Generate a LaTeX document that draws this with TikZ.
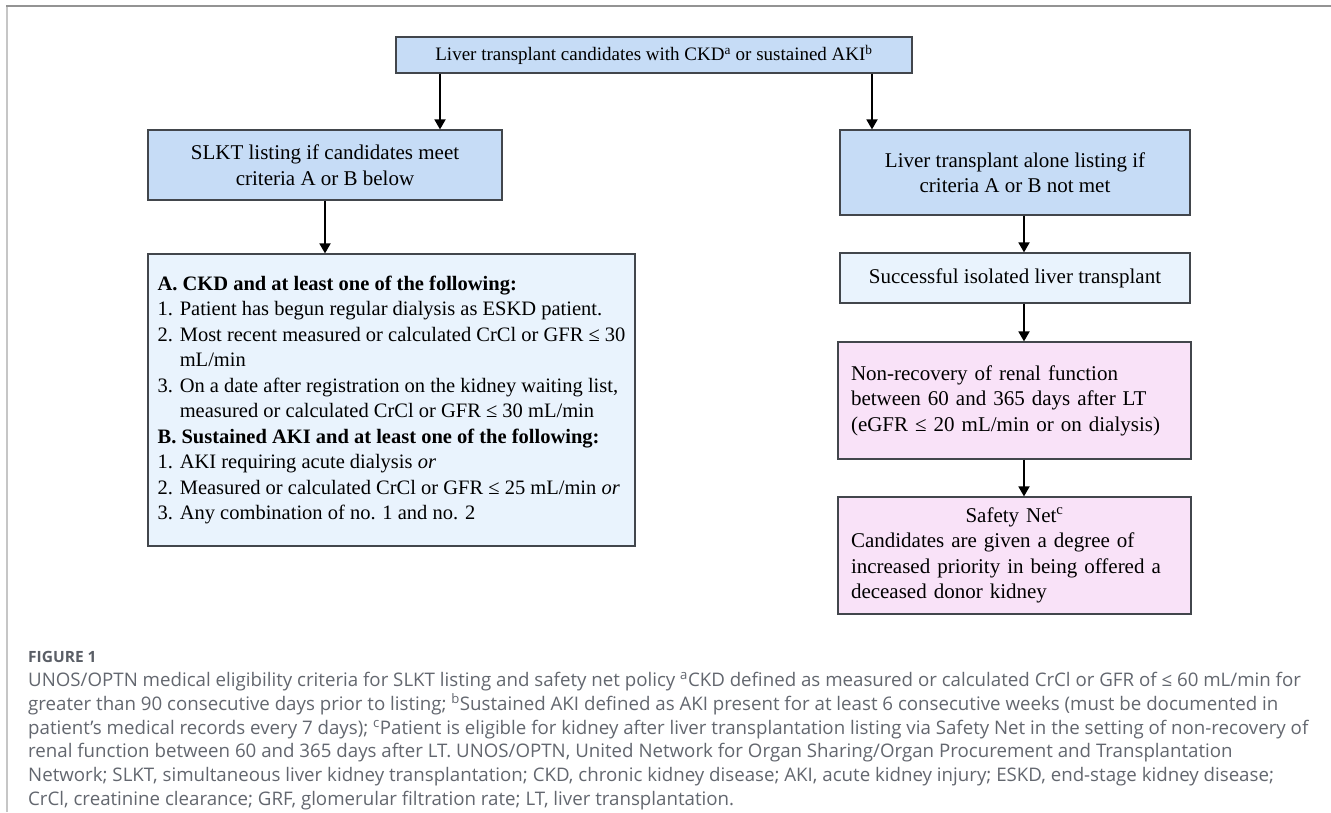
\documentclass[tikz,border=0pt]{standalone}
\usepackage{fontspec}
\setmainfont{Liberation Serif}
\newfontfamily\capfont{Open Sans}
\usetikzlibrary{arrows.meta}
\definecolor{boxblue}{HTML}{C6DCF6}
\definecolor{boxlight}{HTML}{E9F3FD}
\definecolor{boxpink}{HTML}{F9E2F8}
\definecolor{edgegray}{HTML}{42464C}
\definecolor{captext}{HTML}{63676F}
\definecolor{capbold}{HTML}{5A5E66}
\begin{document}
\begin{tikzpicture}[x=1pt,y=-1pt,
  box/.style={draw=edgegray, line width=1.2pt, inner sep=0pt, text=black,
    font=\fontsize{21}{25.5}\selectfont},
  arr/.style={line width=1.8pt, -{Triangle[length=10pt,width=11pt]}},
  capline/.style={anchor=base west, inner sep=0pt, text=captext,
    font=\capfont\fontsize{18.7}{22}\selectfont}]
\useasboundingbox (0,0) rectangle (1331,812);
\fill[white] (0,0) rectangle (1331,812);
\draw[line width=1.5pt, color=gray!45] (7,812) -- (7,6);
\draw[line width=2pt, color=gray!85] (6,6) -- (1331,6);

% boxes
\node[box, fill=boxblue, minimum width=516pt, minimum height=36pt,
      font=\fontsize{19}{22}\selectfont] (top) at (654,55)
  {Liver transplant candidates with CKD\textsuperscript{a} or sustained AKI\textsuperscript{b}};
\node[box, fill=boxblue, minimum width=354pt, minimum height=70pt, align=center] (slkt) at (325,165)
  {SLKT listing if candidates meet\\criteria A or B below};
\node[box, fill=boxlight, minimum width=487pt, minimum height=292pt, align=left,
      font=\fontsize{20.5}{25.5}\selectfont] (crit) at (391.5,400)
  {\textbf{A. CKD and at least one of the following:}\\
   1. Patient has begun regular dialysis as ESKD patient.\\
   2. Most recent measured or calculated CrCl or GFR ≤ 30\\
   \phantom{2. }mL/min\\
   3. On a date after registration on the kidney waiting list,\\
   \phantom{3. }measured or calculated CrCl or GFR ≤ 30 mL/min\\
   \textbf{B. Sustained AKI and at least one of the following:}\\
   1. AKI requiring acute dialysis \textit{or}\\
   2. Measured or calculated CrCl or GFR ≤ 25 mL/min \textit{or}\\
   3. Any combination of no. 1 and no. 2};
\node[box, fill=boxblue, minimum width=350pt, minimum height=85pt, align=center] (lta) at (1015,172.5)
  {Liver transplant alone listing if\\criteria A or B not met};
\node[box, fill=boxlight, minimum width=350pt, minimum height=50pt] (succ) at (1015,278)
  {Successful isolated liver transplant};
\node[box, fill=boxpink, minimum width=353pt, minimum height=117pt, inner xsep=13pt,
      text width=327pt, align=left] (nonrec) at (1014.5,400.5)
  {Non-recovery of renal function\\
   between 60 and 365 days after LT\\
   (eGFR ≤ 20 mL/min or on dialysis)};
\node[box, fill=boxpink, minimum width=353pt, minimum height=117pt, inner xsep=13pt,
      text width=327pt, align=left] (safety) at (1014.5,555.5)
  {\makebox[\linewidth][c]{Safety Net\textsuperscript{c}}\\
   Candidates are given a degree of\\
   increased priority in being offered a\\
   deceased donor kidney};

% arrows
\coordinate (xl) at (440,0);
\coordinate (xr) at (872,0);
\coordinate (xs) at (325,0);
\coordinate (xc) at (1024,0);
\draw[arr] (top.south -| xl) -- (slkt.north -| xl);
\draw[arr] (top.south -| xr) -- (lta.north -| xr);
\draw[arr] (slkt.south -| xs) -- (crit.north -| xs);
\draw[arr] (lta.south -| xc) -- (succ.north -| xc);
\draw[arr] (succ.south -| xc) -- (nonrec.north -| xc);
\draw[arr] (nonrec.south -| xc) -- (safety.north -| xc);

% caption
\node[anchor=base west, inner sep=0pt, text=capbold, font=\capfont\fontsize{15.5}{18}\selectfont\bfseries] (fig) at (28,662) {FIGURE 1};
\node[capline] (c1) at (28,686) {UNOS/OPTN medical eligibility criteria for SLKT listing and safety net policy \textsuperscript{a}CKD defined as measured or calculated CrCl or GFR of ≤ 60 mL/min for};
\node[capline] (c2) at (28,710) {greater than 90 consecutive days prior to listing; \textsuperscript{b}Sustained AKI defined as AKI present for at least 6 consecutive weeks (must be documented in};
\node[capline] (c3) at (28,734) {patient’s medical records every 7 days); \textsuperscript{c}Patient is eligible for kidney after liver transplantation listing via Safety Net in the setting of non-recovery of};
\node[capline] (c4) at (28,757) {renal function between 60 and 365 days after LT. UNOS/OPTN, United Network for Organ Sharing/Organ Procurement and Transplantation};
\node[capline] (c5) at (28,781) {Network; SLKT, simultaneous liver kidney transplantation; CKD, chronic kidney disease; AKI, acute kidney injury; ESKD, end-stage kidney disease;};
\node[capline] (c6) at (28,805) {CrCl, creatinine clearance; GRF, glomerular filtration rate; LT, liver transplantation.};
\end{tikzpicture}
\end{document}
